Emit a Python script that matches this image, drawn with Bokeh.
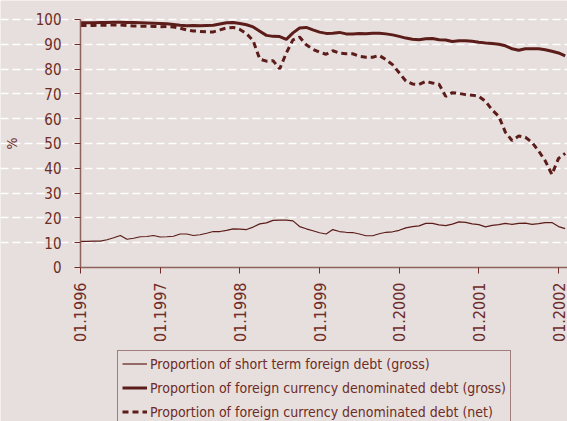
import math
from bokeh.plotting import figure
from bokeh.models import Range1d, FixedTicker, Legend, LegendItem
from bokeh.embed import file_html
from bokeh.resources import INLINE

# months since 01.1996
months = list(range(74))

short_term = [10.5, 10.5, 10.6, 10.6, 11.2, 12.0, 12.9, 11.4, 11.8, 12.4, 12.5, 12.9,
              12.3, 12.4, 12.6, 13.5, 13.5, 12.9, 13.2, 13.8, 14.5, 14.5, 15.0, 15.6,
              15.5, 15.3, 16.3, 17.6, 18.0, 19.0, 19.1, 19.1, 18.8, 16.5, 15.6, 14.8,
              14.0, 13.5, 15.3, 14.5, 14.2, 14.1, 13.5, 12.8, 12.8, 13.6, 14.2, 14.4,
              15.0, 16.0, 16.5, 16.8, 17.8, 17.8, 17.2, 16.9, 17.5, 18.4, 18.2, 17.6,
              17.3, 16.4, 17.0, 17.3, 17.8, 17.4, 17.8, 17.9, 17.4, 17.7, 18.1, 18.1,
              16.5, 15.7]

fx_gross = [98.7, 98.7, 98.7, 98.8, 98.8, 98.9, 98.9, 98.8, 98.8, 98.7, 98.6, 98.5,
            98.4, 98.3, 98.0, 97.7, 97.5, 97.6, 97.5, 97.6, 97.7, 98.2, 98.7, 98.8,
            98.4, 97.9, 97.0, 95.3, 93.6, 93.2, 93.1, 92.0, 94.6, 96.6, 96.8, 95.8,
            94.9, 94.4, 94.5, 94.8, 94.2, 94.2, 94.4, 94.3, 94.5, 94.5, 94.2, 93.8,
            93.2, 92.5, 92.0, 91.8, 92.2, 92.3, 91.8, 91.7, 91.1, 91.4, 91.4, 91.2,
            90.8, 90.5, 90.3, 90.0, 89.4, 88.2, 87.6, 88.2, 88.2, 88.2, 87.8, 87.2,
            86.5, 85.3]

fx_net = [97.6, 97.6, 97.6, 97.7, 97.7, 97.8, 97.8, 97.6, 97.4, 97.3, 97.3, 97.2,
          97.1, 97.2, 97.0, 96.5, 95.8, 95.4, 95.2, 95.0, 95.0, 95.8, 96.6, 96.8,
          96.0, 94.3, 91.5, 84.0, 83.2, 83.4, 80.1, 86.5, 91.8, 92.9, 89.8, 88.0,
          86.8, 86.0, 87.4, 86.4, 86.2, 86.2, 85.2, 84.8, 84.8, 85.5, 83.8, 81.8,
          78.5, 75.2, 74.0, 73.8, 75.0, 74.4, 73.9, 69.0, 70.5, 70.2, 69.7, 69.5,
          69.0, 67.0, 63.5, 61.0, 54.5, 51.2, 53.0, 52.5, 50.5, 47.0, 43.0, 37.5,
          44.0, 46.0]

x_tick_pos = [0, 12, 24, 36, 48, 60, 72]
x_tick_labels = ["01.1996", "01.1997", "01.1998", "01.1999", "01.2000", "01.2001", "01.2002"]
y_ticks = list(range(0, 101, 10))

labels = ["Proportion of short term foreign debt (gross)",
          "Proportion of foreign currency denominated debt (gross)",
          "Proportion of foreign currency denominated debt (net)"]

BG = "#e6dfdd"
LINE = "#5c1c19"
TEXT = "#6e2b27"
AXIS = "#8e625d"
FONT = "DejaVu Sans Condensed, Liberation Sans, sans-serif"

X_END = 73.35
# the frame covers the whole canvas; both axes sit at 0 inside it
p = figure(width=567, height=421, output_backend="svg", toolbar_location=None,
           x_range=Range1d(-12.05, X_END), y_range=Range1d(-62.1, 107.66),
           min_border_left=0, min_border_right=0, min_border_top=0, min_border_bottom=0)
p.background_fill_color = BG
p.border_fill_color = BG
p.outline_line_color = None

p.xgrid.grid_line_color = None
p.ygrid.grid_line_color = "white"
p.ygrid.grid_line_dash = "8 4"
p.ygrid.grid_line_width = 1.5
p.ygrid.ticker = FixedTicker(ticks=y_ticks[1:])
p.ygrid.bounds = (0, X_END)

p.yaxis.ticker = FixedTicker(ticks=y_ticks)
p.yaxis.bounds = (0, 100)
p.yaxis.fixed_location = 0
p.xaxis.ticker = FixedTicker(ticks=x_tick_pos)
p.xaxis.bounds = (0, X_END)
p.xaxis.fixed_location = 0
p.xaxis.major_label_overrides = {t: l for t, l in zip(x_tick_pos, x_tick_labels)}
p.xaxis.major_label_orientation = math.pi / 2
p.yaxis.axis_label = "%"

for ax in (p.xaxis[0], p.yaxis[0]):
    ax.axis_line_color = AXIS
    ax.axis_line_width = 1.5
    ax.major_tick_line_color = TEXT
    ax.major_tick_line_width = 1
    ax.major_tick_out = 6
    ax.major_tick_in = 0
    ax.minor_tick_line_color = None
    ax.major_label_text_color = TEXT
    ax.major_label_text_font = FONT
    ax.axis_label_text_color = TEXT
    ax.axis_label_text_font = FONT
    ax.axis_label_text_font_size = "14px"
    ax.axis_label_text_font_style = "normal"

p.yaxis.major_label_text_font_size = "15px"
p.xaxis.major_label_text_font_size = "16px"
p.yaxis.major_label_standoff = 13
p.xaxis.major_label_standoff = 9
p.yaxis.axis_label_standoff = 13

r1 = p.line(months, short_term, line_color=LINE, line_width=1.2)
r2 = p.line(months, fx_gross, line_color=LINE, line_width=3)
r3 = p.line(months, fx_net, line_color=LINE, line_width=3, line_dash="6 4")

legend = Legend(items=[LegendItem(label=labels[0], renderers=[r1]),
                       LegendItem(label=labels[1], renderers=[r2]),
                       LegendItem(label=labels[2], renderers=[r3])],
                location=(117, -4), orientation="vertical")
legend.background_fill_alpha = 0
legend.border_line_color = LINE
legend.border_line_width = 1
legend.label_text_font = FONT
legend.label_text_font_size = "14px"
legend.label_text_color = TEXT
legend.glyph_width = 25
legend.glyph_height = 17
legend.label_height = 17
legend.label_standoff = 3
legend.spacing = 7
legend.padding = 4
legend.margin = 0
p.add_layout(legend, "center")

open("out.html", "w").write(file_html(p, INLINE))
